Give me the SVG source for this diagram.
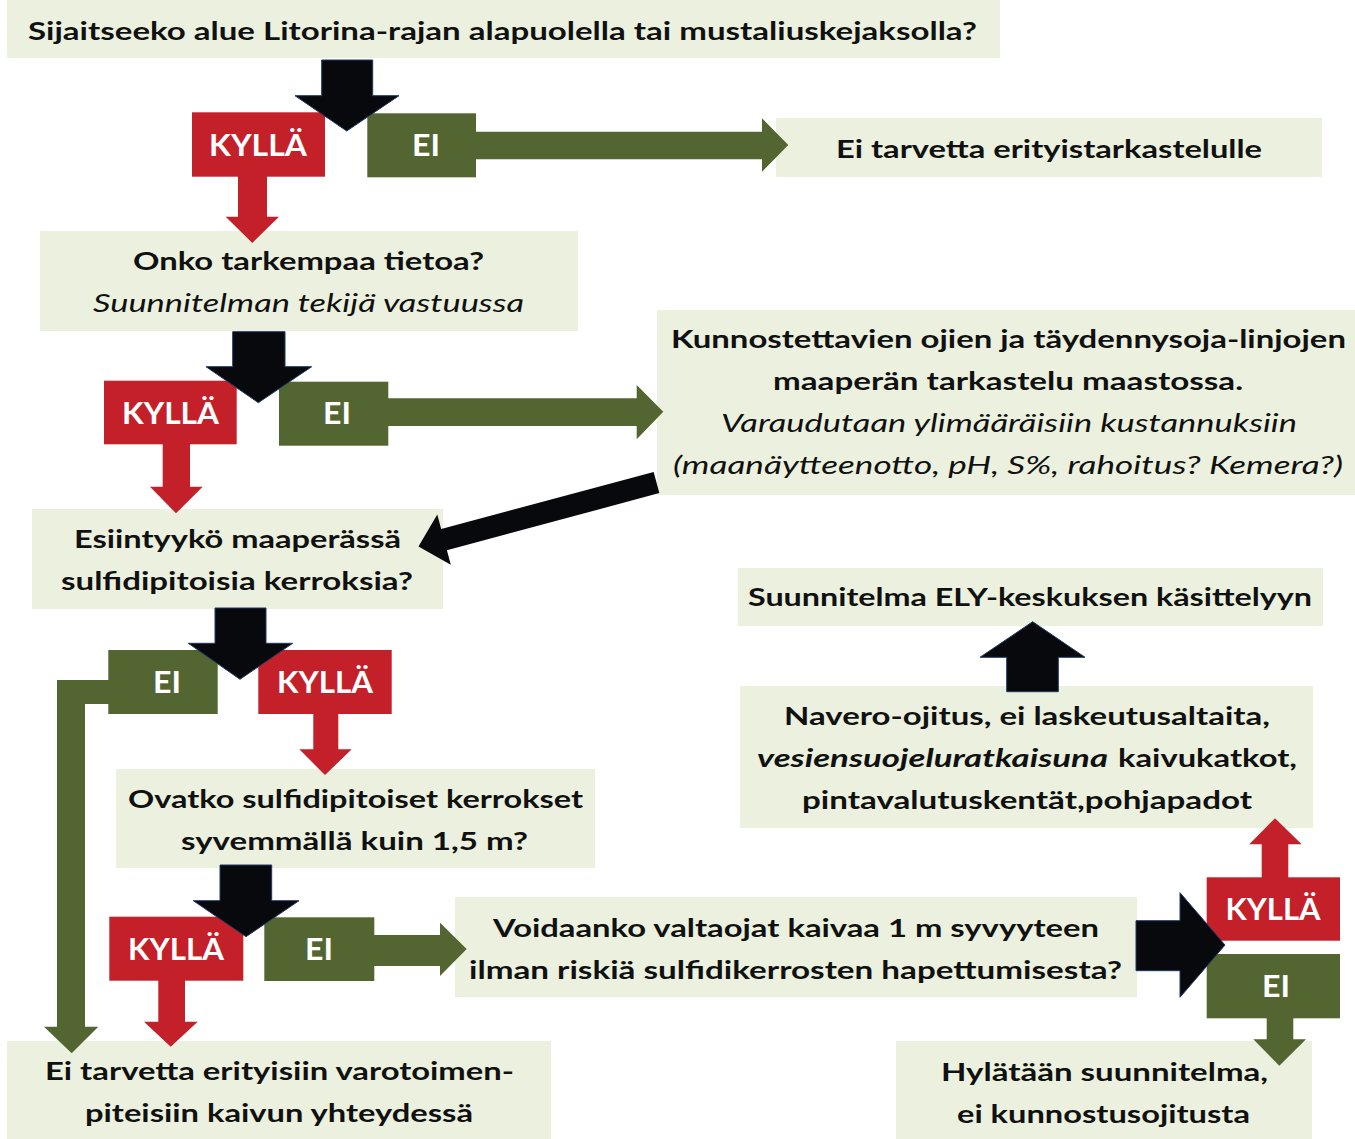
<svg xmlns="http://www.w3.org/2000/svg" width="1355" height="1139" viewBox="0 0 1355 1139">
<style>
.box{fill:#EBF1DE}
.t{font-family:Lato,"Liberation Sans",sans-serif;font-weight:bold;font-size:25px;fill:#111;text-anchor:middle}
.i{font-family:Lato,"Liberation Sans",sans-serif;font-style:italic;font-size:25px;fill:#111;text-anchor:middle}
.lbl{font-family:Lato,"Liberation Sans",sans-serif;font-weight:bold;font-size:31px;fill:#fff;text-anchor:middle}
.red{fill:#C3202A}
.grn{fill:#536530}
.blk{fill:#08090C;stroke:#1F3864;stroke-width:1}
</style>
<rect width="1355" height="1139" fill="#fff"/>
<g id="q1"><rect class="box" x="7" y="0" width="993" height="58"/>
<text class="t" x="502.5" y="40" textLength="949" lengthAdjust="spacingAndGlyphs">Sijaitseeko alue Litorina-rajan alapuolella tai mustaliuskejaksolla?</text></g>
<g id="r1"><rect class="box" x="776" y="118" width="546" height="59"/>
<text class="t" x="1049" y="158" textLength="426" lengthAdjust="spacingAndGlyphs">Ei tarvetta erityistarkastelulle</text></g>
<g id="q2"><rect class="box" x="40" y="231" width="538" height="100"/>
<text class="t" x="308.5" y="270" textLength="351" lengthAdjust="spacingAndGlyphs">Onko tarkempaa tietoa?</text>
<text class="i" x="308.5" y="312" textLength="431" lengthAdjust="spacingAndGlyphs">Suunnitelman tekijä vastuussa</text></g>
<g id="r2"><rect class="box" x="657" y="310" width="698" height="185"/>
<text class="t" x="1008.5" y="348" textLength="675" lengthAdjust="spacingAndGlyphs">Kunnostettavien ojien ja täydennysoja-linjojen</text>
<text class="t" x="1008" y="390" textLength="470" lengthAdjust="spacingAndGlyphs">maaperän tarkastelu maastossa.</text>
<text class="i" x="1009" y="432" textLength="576" lengthAdjust="spacingAndGlyphs">Varaudutaan ylimääräisiin kustannuksiin</text>
<text class="i" x="1008" y="474" textLength="670" lengthAdjust="spacingAndGlyphs">(maanäytteenotto, pH, S%, rahoitus? Kemera?)</text></g>
<g id="q3"><rect class="box" x="32" y="509" width="411" height="100"/>
<text class="t" x="237.5" y="548" textLength="327" lengthAdjust="spacingAndGlyphs">Esiintyykö maaperässä</text>
<text class="t" x="237" y="590" textLength="352" lengthAdjust="spacingAndGlyphs">sulfidipitoisia kerroksia?</text></g>
<g id="r3"><rect class="box" x="738" y="568" width="585" height="58"/>
<text class="t" x="1030" y="606" textLength="564" lengthAdjust="spacingAndGlyphs">Suunnitelma ELY-keskuksen käsittelyyn</text></g>
<g id="r4"><rect class="box" x="740" y="686" width="573" height="142"/>
<text class="t" x="1027" y="725" textLength="486" lengthAdjust="spacingAndGlyphs">Navero-ojitus, ei laskeutusaltaita,</text>
<text class="t" x="757" y="767" font-style="italic" text-anchor="start" style="text-anchor:start" textLength="351" lengthAdjust="spacingAndGlyphs">vesiensuojeluratkaisuna</text>
<text class="t" x="1118" y="767" style="text-anchor:start" textLength="179" lengthAdjust="spacingAndGlyphs">kaivukatkot,</text>
<text class="t" x="1027" y="809" textLength="450" lengthAdjust="spacingAndGlyphs">pintavalutuskentät,pohjapadot</text></g>
<g id="q4"><rect class="box" x="116" y="769" width="479" height="99"/>
<text class="t" x="355.5" y="808" textLength="455" lengthAdjust="spacingAndGlyphs">Ovatko sulfidipitoiset kerrokset</text>
<text class="t" x="354.5" y="850" textLength="347" lengthAdjust="spacingAndGlyphs">syvemmällä kuin 1,5 m?</text></g>
<g id="q5"><rect class="box" x="455" y="897" width="682" height="100"/>
<text class="t" x="796" y="937" textLength="606" lengthAdjust="spacingAndGlyphs">Voidaanko valtaojat kaivaa 1 m syvyyteen</text>
<text class="t" x="795.5" y="979" textLength="653" lengthAdjust="spacingAndGlyphs">ilman riskiä sulfidikerrosten hapettumisesta?</text></g>
<g id="r5"><rect class="box" x="7" y="1041" width="544" height="98"/>
<text class="t" x="279.5" y="1080" textLength="469" lengthAdjust="spacingAndGlyphs">Ei tarvetta erityisiin varotoimen-</text>
<text class="t" x="279" y="1122" textLength="388" lengthAdjust="spacingAndGlyphs">piteisiin kaivun yhteydessä</text></g>
<g id="r6"><rect class="box" x="896" y="1041" width="416" height="98"/>
<text class="t" x="1104.5" y="1081" textLength="327" lengthAdjust="spacingAndGlyphs">Hylätään suunnitelma,</text>
<text class="t" x="1103.5" y="1123" textLength="293" lengthAdjust="spacingAndGlyphs">ei kunnostusojitusta</text></g>
<g id="connectors">
<!-- decision 1 -->
<polygon class="grn" points="476,131.7 762,131.7 762,118.3 788.3,145 762,171.7 762,159.3 476,159.3"/>
<polygon class="red" points="238,176 267,176 267,216.7 279,216.7 252.3,243 225.7,216.7 238,216.7"/>
<!-- decision 2 -->
<polygon class="grn" points="388,398.3 636.7,398.3 636.7,385 663.3,411.7 636.7,439.3 636.7,426 388,426"/>
<polygon class="red" points="162.7,444 190,444 190,486.7 202.7,486.7 176,513.3 150,486.7 162.7,486.7"/>
<!-- diagonal -->
<polygon fill="#08090C" transform="translate(656.5,482.5) rotate(164.95)" points="0,-11 220,-11 220,-26 246.5,0 220,26 220,11 0,11"/>
<!-- decision 3 -->
<polygon class="grn" points="109,680 57,680 57,1026.7 44,1026.7 71.7,1053.3 98.3,1026.7 85,1026.7 85,704 109,704"/>
<polygon class="red" points="313.3,713 338.3,713 338.3,749.3 351.7,749.3 325,775 299.3,749.3 313.3,749.3"/>
<!-- decision 4 -->
<polygon class="grn" points="374,935 440,935 440,922.7 466.7,949 440,976 440,966 374,966"/>
<polygon class="red" points="158.3,980 185,980 185,1021.7 197.7,1021.7 170.7,1046.7 144,1021.7 158.3,1021.7"/>
<!-- decision 5 -->
<polygon class="red" points="1261.7,878 1261.7,844.3 1249.3,844.3 1275,818.3 1301.7,844.3 1288.3,844.3 1288.3,878"/>
<polygon class="grn" points="1266.7,1017 1293.3,1017 1293.3,1039.3 1306,1039.3 1279.3,1065.7 1253.3,1039.3 1266.7,1039.3"/>
</g>
<g id="d1">
<rect class="red" x="192" y="112.3" width="133" height="64.4"/>
<text class="lbl" x="258" y="156" textLength="98" lengthAdjust="spacingAndGlyphs">KYLLÄ</text>
<rect class="grn" x="367.3" y="113.3" width="108.7" height="64"/>
<text class="lbl" x="426" y="156" textLength="28" lengthAdjust="spacingAndGlyphs">EI</text>
<polygon class="blk" points="321.7,60 372.7,60 372.7,95.7 399,95.7 346.7,131 295,95.7 321.7,95.7"/>
</g>
<g id="d2">
<rect class="red" x="104" y="380.7" width="132.7" height="63.6"/>
<text class="lbl" x="170.5" y="424" textLength="97" lengthAdjust="spacingAndGlyphs">KYLLÄ</text>
<rect class="grn" x="279" y="381.7" width="109.3" height="64"/>
<text class="lbl" x="337" y="424" textLength="28" lengthAdjust="spacingAndGlyphs">EI</text>
<polygon class="blk" points="232.7,331.7 285,331.7 285,366.7 311.7,366.7 258.3,402.7 206,366.7 232.7,366.7"/>
</g>
<g id="d3">
<rect class="grn" x="108.3" y="650" width="109.4" height="64"/>
<text class="lbl" x="167" y="693" textLength="28" lengthAdjust="spacingAndGlyphs">EI</text>
<rect class="red" x="258.3" y="650" width="133.4" height="64"/>
<text class="lbl" x="325" y="693" textLength="96" lengthAdjust="spacingAndGlyphs">KYLLÄ</text>
<polygon class="blk" points="215,608 266,608 266,643.3 292.7,643.3 240,679.3 188.3,643.3 215,643.3"/>
</g>
<g id="d4">
<rect class="red" x="109.3" y="916.7" width="134" height="64"/>
<text class="lbl" x="176" y="960" textLength="96" lengthAdjust="spacingAndGlyphs">KYLLÄ</text>
<rect class="grn" x="264.3" y="917.3" width="110" height="63.7"/>
<text class="lbl" x="319" y="960" textLength="28" lengthAdjust="spacingAndGlyphs">EI</text>
<polygon class="blk" points="220,865 271.7,865 271.7,900.7 299,900.7 246,936.7 193.3,900.7 220,900.7"/>
</g>
<g id="d5">
<rect class="red" x="1206.7" y="877.3" width="133.3" height="63.4"/>
<text class="lbl" x="1273" y="920" textLength="95" lengthAdjust="spacingAndGlyphs">KYLLÄ</text>
<rect class="grn" x="1206.7" y="954" width="133.3" height="64.3"/>
<text class="lbl" x="1276" y="997" textLength="28" lengthAdjust="spacingAndGlyphs">EI</text>
<polygon class="blk" points="1136,920.7 1180,920.7 1180,892.7 1225,945 1180,997.3 1180,970.7 1136,970.7"/>
</g>
<g id="up">
<polygon class="blk" points="1006.7,691.7 1006.7,657.3 980,657.3 1032.7,621.7 1085,657.3 1058.3,657.3 1058.3,691.7"/>
</g>
</svg>
